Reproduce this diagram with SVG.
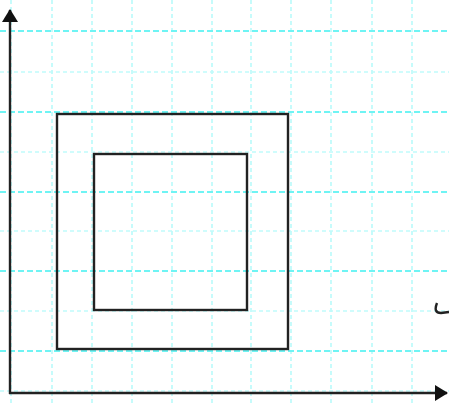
<svg xmlns="http://www.w3.org/2000/svg" width="449" height="403" viewBox="0 0 449 403">
<defs>
<style>
.gv{stroke:#b8fafa;stroke-width:1.6;stroke-dasharray:4 3;fill:none}
.gh{stroke:#c0fbfb;stroke-width:1.6;stroke-dasharray:4 3;fill:none}
.gb{stroke:#6ff4f4;stroke-width:1.8;stroke-dasharray:6 3;fill:none}
.ln{stroke:#222;stroke-width:2.4;fill:none}
</style>
<marker id="ah" viewBox="0 0 13 16" refX="12" refY="8" markerWidth="13" markerHeight="16" markerUnits="userSpaceOnUse" orient="auto">
<path d="M0,0 L13,8 L0,16 Z" fill="#111"/>
</marker>
</defs>
<rect width="449" height="403" fill="#fff"/>
<g id="grid">
<path class="gv" d="M11,0V403M52,0V403M92,0V403M132,0V403M172,0V403M212,0V403M251,0V403M291,0V403M331,0V403M372,0V403M412,0V403"/>
<path class="gh" d="M0,72H449M0,152H449M0,231H449M0,311H449M0,391H449"/>
<path class="gb" d="M0,31H449M0,112H449M0,192H449M0,271H449M0,351H449"/>
</g>
<g id="outer-square"><rect class="ln" x="57" y="114" width="231" height="235"/></g>
<g id="inner-square"><rect class="ln" x="94" y="154" width="153" height="156"/></g>
<g id="connectors">
<path class="ln" d="M10,394V10" marker-end="url(#ah)"/>
<path class="ln" d="M9,393H447" marker-end="url(#ah)"/>
</g>
<path class="ln" d="M437,303 Q433,313 441,313 L449,312"/>
</svg>
